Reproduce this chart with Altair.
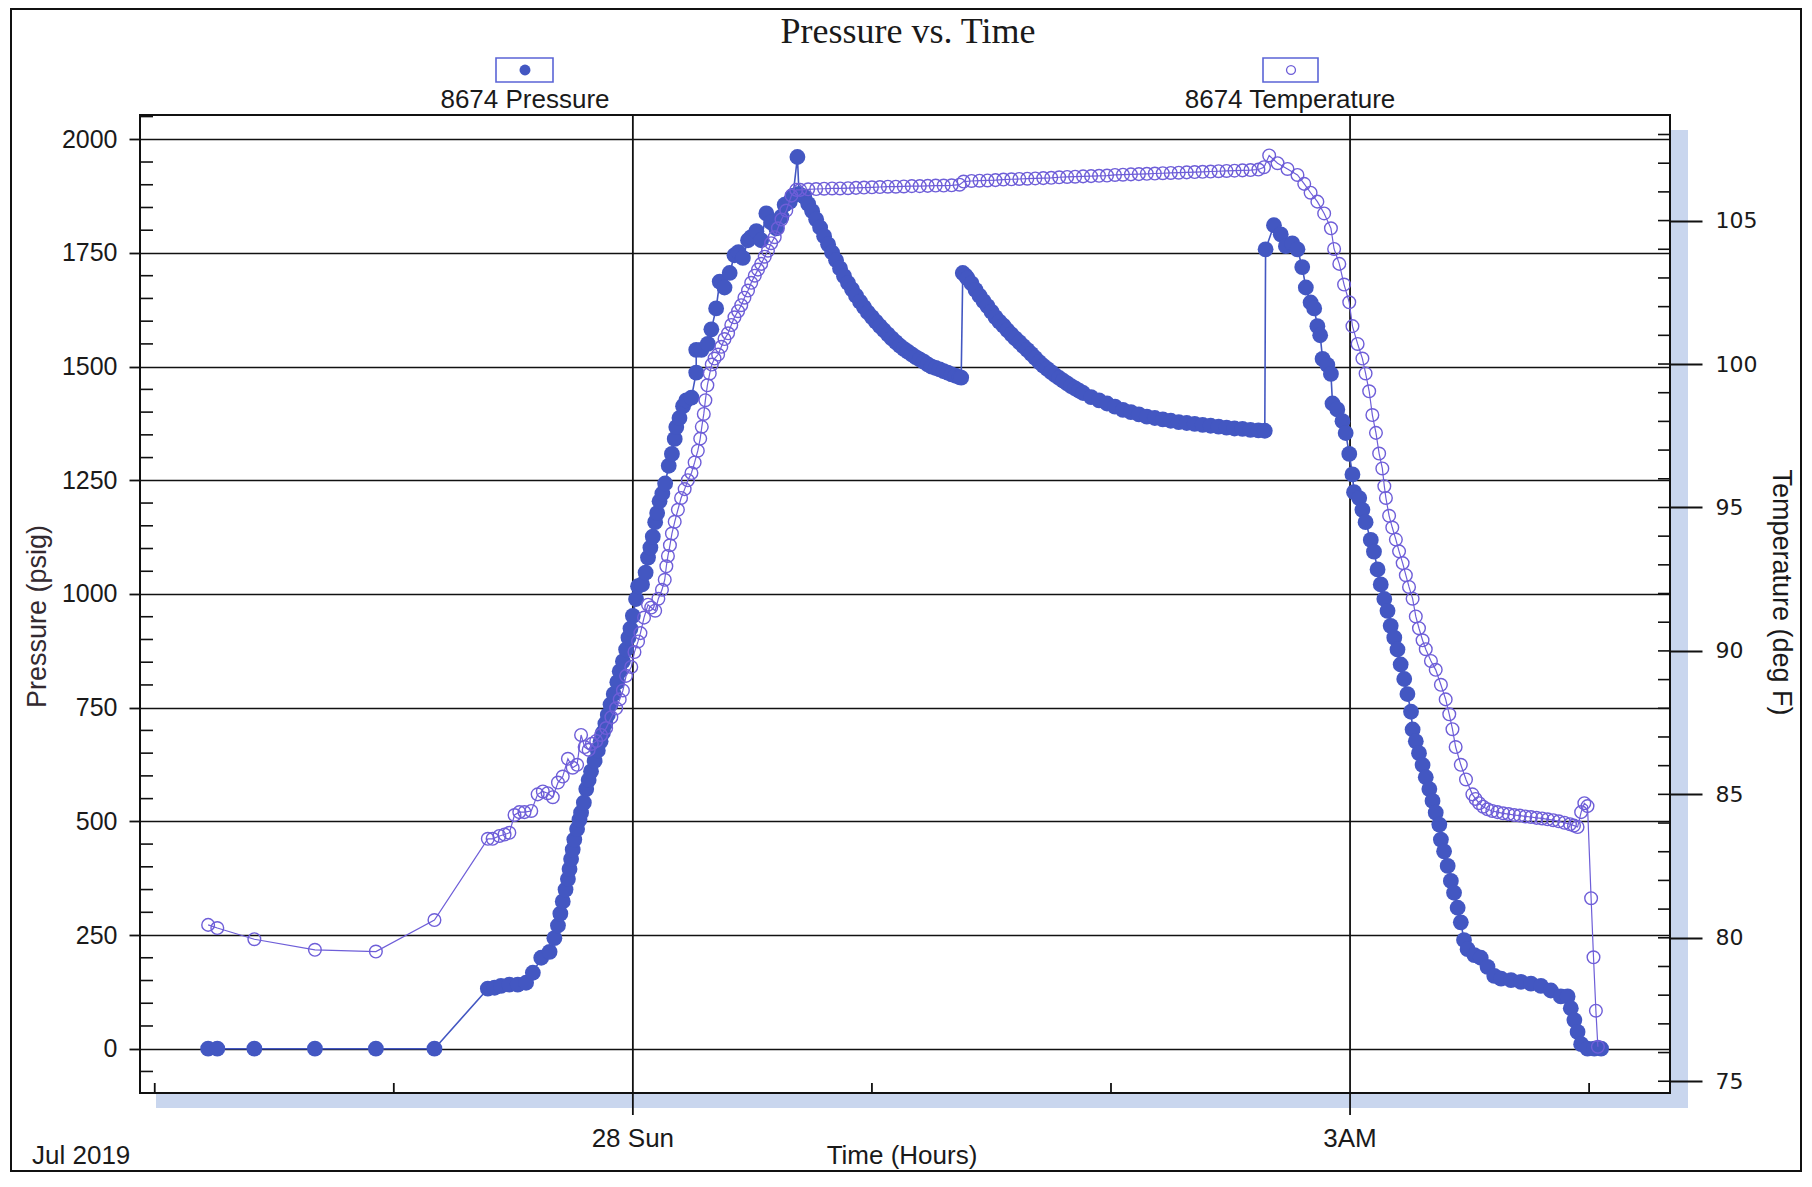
import altair as alt
import pandas as pd

# ---------------- data (minutes relative to 28 Jul 2019 00:00) ----------------
p_time_start = [-106.6, -104.3, -95.0, -79.8, -64.5, -49.8]
p_psig_start = [0, 0, 0, 0, 0, 0]

p_time_rise = [-36.4, -34.7, -33.1, -31.0, -28.9, -26.8, -25.1, -23.0, -20.9, -19.7, -18.8, -18.2,
               -17.6, -16.9, -16.3, -15.9, -15.5, -15.1, -14.7, -14.0, -13.4, -13.0, -12.3, -11.7,
               -11.1, -10.5, -9.6, -8.8, -8.1, -7.5, -6.9, -6.3, -5.6, -4.8, -3.9, -3.3, -2.5, -1.7,
               -1.1, -0.6, 0.0, 0.8, 1.3, 2.3, 3.2, 3.8, 4.4, 5.0, 5.6, 6.1, 6.7, 7.4, 8.1, 9.0, 9.8,
               10.5, 10.9, 11.7, 12.6, 13.4, 14.7, 15.9, 15.9, 17.2, 18.8, 19.7, 20.9, 21.8, 23.0,
               24.3, 25.5, 26.5, 27.6, 28.9, 29.7, 31.0, 32.2, 33.5, 34.7, 36.0, 37.3, 38.1, 39.4,
               40.2, 41.3, 41.7]
p_psig_rise = [132, 134, 138, 141, 141, 145, 167, 200, 213, 243, 271, 297,
               324, 350, 373, 395, 417, 438, 460, 483, 504, 519, 541, 571,
               591, 610, 633, 656, 676, 695, 715, 734, 757, 780, 806, 830, 852, 878,
               904, 924, 952, 989, 1017, 1021, 1047, 1080, 1102, 1126, 1158, 1178, 1204, 1221, 1243, 1282, 1308,
               1341, 1367, 1387, 1413, 1426, 1432, 1487, 1537, 1537, 1550, 1582, 1628, 1687, 1674,
               1706, 1745, 1752, 1739, 1778, 1785, 1798, 1778, 1837, 1817, 1804, 1830, 1856, 1863,
               1876, 1961, 1880]

p_time_decay1 = [43, 44, 45, 46, 47, 48, 49, 50, 51, 52, 53, 54, 55, 56, 57, 58, 59, 60, 61, 62, 63,
                 64, 65, 66, 67, 68, 69, 70, 71, 72, 73, 74, 75, 76, 77, 78, 79, 80, 81, 82, 82.4]
p_psig_decay1 = [1874, 1858, 1842, 1824, 1806, 1787, 1769, 1751, 1734, 1716, 1699, 1684, 1670, 1656,
                 1643, 1631, 1619, 1609, 1599, 1589, 1580, 1571, 1562, 1554, 1546, 1539, 1533, 1527,
                 1521, 1516, 1511, 1505, 1500, 1497, 1494, 1490, 1487, 1483, 1480, 1477, 1476]

p_time_decay2 = [82.8, 83.5, 84, 85, 86, 87, 88, 89, 90, 91, 92, 93, 94, 95, 96, 97, 98, 99, 100, 101,
                 102, 103, 104, 105, 106, 107, 108, 109, 110, 111, 112, 113, 115, 117, 119, 121, 123,
                 125, 127, 129, 131, 133, 135, 137, 139, 141, 143, 145, 147, 149, 151, 153, 155, 157,
                 158.6]
p_psig_decay2 = [1706, 1700, 1694, 1683, 1669, 1656, 1644, 1633, 1621, 1609, 1599, 1590, 1580, 1571,
                 1562, 1554, 1545, 1537, 1528, 1519, 1510, 1502, 1495, 1488, 1481, 1475, 1469, 1463,
                 1457, 1452, 1447, 1442, 1433, 1426, 1419, 1412, 1405, 1400, 1395, 1390, 1387, 1384,
                 1381, 1378, 1376, 1374, 1372, 1370, 1368, 1366, 1364, 1363, 1361, 1360, 1359]

p_time_fall = [158.8, 160.9, 162.6, 163.9, 165.5, 166.8, 168.0, 168.9, 170.1, 171.0, 171.8, 172.5,
               173.1, 174.3, 175.2, 175.6, 176.8, 178.1, 178.9, 179.8, 180.6, 181.0, 182.3, 183.1,
               183.9, 185.2, 186.0, 186.9, 187.7, 188.6, 189.4, 190.2, 191.1, 191.9, 192.7, 193.6,
               194.4, 195.3, 195.7, 196.5, 197.3, 198.2, 199.0, 199.9, 200.7, 201.5, 202.4, 202.8,
               203.6, 204.5, 205.3, 206.1, 207.0, 207.8, 208.6, 209.5, 211.2, 212.8, 214.5, 216.2,
               217.9, 220.4, 222.9, 225.4, 227.9, 230.4, 232.9, 234.6, 235.4, 236.3, 237.1, 238.0,
               239.6, 241.3, 243.0]
p_psig_fall = [1758, 1811, 1791, 1765, 1771, 1758, 1719, 1674, 1641, 1628, 1589, 1569,
               1517, 1504, 1484, 1419, 1406, 1380, 1354, 1308, 1263, 1224, 1211, 1185,
               1158, 1119, 1093, 1054, 1021, 989, 963, 930, 904, 878, 845, 813,
               780, 741, 702, 676, 650, 624, 597, 571, 545, 519, 493, 460,
               434, 402, 369, 343, 310, 278, 239, 219, 206, 200, 180, 160,
               154, 151, 147, 143, 138, 128, 115, 115, 89, 63, 37, 10,
               0, 0, 0]

t_time_start = [-106.6, -104.3, -95.0, -79.8, -64.5, -49.8]
t_degf_start = [80.45, 80.34, 79.95, 79.58, 79.52, 80.62]

t_time_rise = [-36.4, -35.2, -33.5, -32.2, -31.0, -29.7, -28.5, -27.2, -25.5, -23.9, -22.6, -21.4,
               -20.1, -18.8, -17.6, -16.3, -15.1, -14.0, -13.0, -12.1, -11.1, -10.3, -9.2, -8.0,
               -6.7, -5.4, -4.2, -3.3, -2.5, -1.7, -0.4, 0.4, 1.3, 1.9, 2.8, 3.8, 4.6, 5.6, 6.4, 7.3,
               8.0, 8.4, 8.8, 9.3, 9.8, 10.5, 11.3, 12.1, 13.0, 13.8, 14.7, 15.5, 16.3, 16.9, 17.3,
               17.8, 18.2, 18.7, 19.3, 19.8, 20.5, 21.4, 22.2, 23.0, 23.9, 24.7, 25.5, 26.4, 27.2,
               28.0, 28.9, 29.7, 30.6, 31.4, 32.2, 33.1, 33.9, 34.7, 35.6, 36.4, 37.3, 38.5, 39.8, 41.0]
t_degf_rise = [83.45, 83.45, 83.55, 83.60, 83.66, 84.28, 84.38, 84.38, 84.42, 85.00, 85.10, 85.04,
               84.90, 85.41, 85.62, 86.24, 85.93, 86.03, 87.07, 86.65, 86.55, 86.76, 86.86, 87.07,
               87.31, 87.69, 88.00, 88.31, 88.62, 89.13, 89.44, 89.96, 90.33, 90.62, 91.16, 91.61,
               91.51, 91.40, 91.82, 92.13, 92.48, 92.95, 93.31, 93.68, 94.09, 94.50, 94.92, 95.33,
               95.64, 95.95, 96.20, 96.57, 96.98, 97.40, 97.81, 98.26, 98.74, 99.26, 99.67, 99.98,
               100.19, 100.33, 100.60, 100.87, 101.07, 101.36, 101.63, 101.84, 102.05, 102.31,
               102.56, 102.83, 103.08, 103.29, 103.49, 103.74, 103.95, 104.21, 104.42, 104.73,
               105.04, 105.35, 105.87, 106.07]

t_time_flat = [42, 44, 46, 48, 50, 52, 54, 56, 58, 60, 62, 64, 66, 68, 70, 72, 74, 76, 78, 80, 82,
               83, 85, 87, 89, 91, 93, 95, 97, 99, 101, 103, 105, 107, 109, 111, 113, 115, 117, 119,
               121, 123, 125, 127, 129, 131, 133, 135, 137, 139, 141, 143, 145, 147, 149, 151, 153,
               155, 157]
t_degf_flat = [106.07, 106.09, 106.10, 106.11, 106.12, 106.12, 106.13, 106.14, 106.15, 106.16, 106.17,
               106.18, 106.18, 106.19, 106.20, 106.20, 106.21, 106.22, 106.22, 106.23, 106.25,
               106.36, 106.38, 106.39, 106.40, 106.41, 106.43, 106.44, 106.45, 106.46, 106.47, 106.48,
               106.49, 106.51, 106.52, 106.53, 106.54, 106.55, 106.56, 106.57, 106.59, 106.60,
               106.61, 106.62, 106.63, 106.64, 106.65, 106.66, 106.67, 106.68, 106.69, 106.70,
               106.71, 106.72, 106.73, 106.74, 106.75, 106.76, 106.78]

t_time_fall = [158.4, 159.7, 161.8, 164.3, 166.8, 168.5, 170.1, 171.8, 173.5, 175.2, 176.0, 177.3,
               178.5, 179.8, 180.6, 181.9, 183.1, 183.9, 184.8, 185.6, 186.5, 187.3, 188.1, 188.6,
               189.0, 189.8, 190.6, 191.5, 192.3, 193.2, 194.0, 194.8, 195.7, 196.5, 197.3, 198.2,
               199.0, 200.3, 201.5, 202.8, 204.0, 204.9, 205.7, 206.5, 207.8, 209.1, 210.7, 211.5,
               212.4, 213.4, 214.5, 215.7, 217.0, 218.4, 219.8, 221.2, 222.6, 224.0, 225.4, 226.8,
               228.2, 229.6, 231.0, 232.4, 233.8, 235.2, 236.2, 237.1, 238.0, 238.8, 239.6, 240.5,
               241.1, 241.7, 242.2]
t_degf_fall = [106.86, 107.27, 107.00, 106.80, 106.59, 106.28, 105.97, 105.66, 105.25, 104.73, 104.01,
               103.49, 102.77, 102.15, 101.32, 100.70, 100.19, 99.67, 99.05, 98.22, 97.60, 96.88,
               96.36, 95.74, 95.33, 94.71, 94.30, 93.88, 93.47, 93.06, 92.64, 92.23, 91.82, 91.20,
               90.79, 90.37, 90.06, 89.65, 89.34, 88.82, 88.31, 87.79, 87.27, 86.65, 86.03, 85.52,
               85.00, 84.84, 84.69, 84.57, 84.48, 84.42, 84.38, 84.34, 84.31, 84.28, 84.26, 84.23,
               84.21, 84.18, 84.16, 84.13, 84.10, 84.06, 84.01, 83.96, 83.91, 83.86, 84.38, 84.69,
               84.59, 81.38, 79.32, 77.46, 76.20]

x_major_ticks = [0, 180]
x_tick_labels = ["28 Sun", "3AM"]
x_minor_ticks = [-120, -60, 60, 120, 240]
p_major_ticks = [0, 250, 500, 750, 1000, 1250, 1500, 1750, 2000]
p_minor_ticks = [v for v in range(-50, 2051, 50) if v % 250 != 0]
t_major_ticks = [75, 80, 85, 90, 95, 100, 105]
t_minor_ticks = list(range(75, 109))

# ---------------- tables ----------------
p_time = p_time_start + p_time_rise + p_time_decay1 + p_time_decay2 + p_time_fall
p_psig = p_psig_start + p_psig_rise + p_psig_decay1 + p_psig_decay2 + p_psig_fall
t_time = t_time_start + t_time_rise + t_time_flat + t_time_fall
t_degf = t_degf_start + t_degf_rise + t_degf_flat + t_degf_fall

pres = pd.DataFrame({"t": p_time, "v": p_psig, "i": list(range(len(p_time)))})
temp = pd.DataFrame({"t": t_time, "v": t_degf, "i": list(range(len(t_time)))})
xticks = pd.DataFrame({"t": x_major_ticks, "lab": x_tick_labels})
one = pd.DataFrame({"a": [0]})

W, H = 1530, 978
P_COLOR = "#4357c2"
T_COLOR = "#6e5ed8"
SANS = "Liberation Sans"
INK = "#1a1a1a"

xs = alt.Scale(domain=[-123.7, 260.3], nice=False, zero=False)
ps = alt.Scale(domain=[-97.4, 2053.4], nice=False, zero=False)
ts = alt.Scale(domain=[74.59, 108.68], nice=False, zero=False)

p_axis = alt.Axis(orient="left", values=p_major_ticks, format="d", title="Pressure (psig)", grid=True,
                  gridColor="#111", gridWidth=1.6, domain=False, tickSize=11, tickColor="#111",
                  tickWidth=1.8, labelFont=SANS, labelFontSize=25, labelColor=INK,
                  labelPadding=12, titleFont=SANS, titleFontSize=27, titleFontWeight="normal",
                  titleColor="#332a30", titleAngle=-90, titleX=-103, titleY=501,
                  titleAlign="center", titleBaseline="middle")

t_axis = alt.Axis(orient="right", values=t_major_ticks, title="Temperature (deg F)", grid=False,
                  domain=False, tickSize=32, tickColor="#111", tickWidth=1.8,
                  labelFont="DejaVu Sans", labelFontSize=22, labelColor=INK, labelPadding=13,
                  titleFont=SANS, titleFontSize=27, titleFontWeight="normal", titleColor=INK,
                  titleAngle=90, titleX=110, titleY=477, titleAlign="center",
                  titleBaseline="middle", zindex=2)

# ---------------- layers ----------------
shadow_b = alt.Chart(one).mark_rect(color="#c9d6ee").encode(
    x=alt.value(16), x2=alt.value(W + 17), y=alt.value(H + 1), y2=alt.value(H + 15))
shadow_r = alt.Chart(one).mark_rect(color="#c9d6ee").encode(
    x=alt.value(W + 1), x2=alt.value(W + 18), y=alt.value(15), y2=alt.value(H + 15))

# x axis: full-height lines + long ticks at the labelled hours, short inner ticks elsewhere
vgrid = alt.Chart(xticks).mark_rule(color="#111", strokeWidth=1.8).encode(
    x=alt.X("t:Q", scale=xs, axis=None), y=alt.value(0), y2=alt.value(H + 22))
xlabels = alt.Chart(xticks).mark_text(font=SANS, fontSize=26, color=INK, align="center",
                                      baseline="alphabetic").encode(
    x=alt.X("t:Q", scale=xs, axis=None), y=alt.value(H + 54), text="lab:N")
xminor = alt.Chart(pd.DataFrame({"t": x_minor_ticks})).mark_rule(color="#111", strokeWidth=1.8).encode(
    x=alt.X("t:Q", scale=xs, axis=None), y=alt.value(H), y2=alt.value(H - 10))
xtitle = alt.Chart(one).mark_text(text="Time (Hours)", font=SANS, fontSize=26, color=INK,
                                  align="center", baseline="alphabetic").encode(
    x=alt.value(762), y=alt.value(H + 71))

pminor = alt.Chart(pd.DataFrame({"v": p_minor_ticks})).mark_rule(color="#111", strokeWidth=1.6).encode(
    y=alt.Y("v:Q", scale=ps, axis=None), x=alt.value(0), x2=alt.value(13))
p_line = alt.Chart(pres).mark_line(color=P_COLOR, strokeWidth=1.6).encode(
    x=alt.X("t:Q", scale=xs, axis=None), y=alt.Y("v:Q", scale=ps, axis=p_axis),
    order=alt.Order("i:Q"))
p_pts = alt.Chart(pres).mark_circle(color=P_COLOR, size=250, opacity=1).encode(
    x=alt.X("t:Q", scale=xs, axis=None), y=alt.Y("v:Q", scale=ps, axis=None))

tminor = alt.Chart(pd.DataFrame({"v": t_minor_ticks})).mark_rule(color="#111", strokeWidth=1.6).encode(
    y=alt.Y("v:Q", scale=ts, axis=None), x=alt.value(W - 12), x2=alt.value(W))
t_line = alt.Chart(temp).mark_line(color=T_COLOR, strokeWidth=1.2).encode(
    x=alt.X("t:Q", scale=xs, axis=None), y=alt.Y("v:Q", scale=ts, axis=t_axis),
    order=alt.Order("i:Q"))
t_pts = alt.Chart(temp).mark_point(shape="circle", filled=False, size=160, strokeWidth=1.4,
                                   color=T_COLOR, opacity=1).encode(
    x=alt.X("t:Q", scale=xs, axis=None), y=alt.Y("v:Q", scale=ts, axis=None))

title = alt.Chart(one).mark_text(text="Pressure vs. Time", font="Liberation Serif", fontSize=36,
                                 color=INK, align="center", baseline="alphabetic").encode(
    x=alt.value(768), y=alt.value(-72))
box1 = alt.Chart(one).mark_rect(fill="white", stroke="#5b64d6", strokeWidth=1.6).encode(
    x=alt.value(356), x2=alt.value(413), y=alt.value(-57), y2=alt.value(-33))
sym1 = alt.Chart(one).mark_circle(color=P_COLOR, size=120, opacity=1).encode(
    x=alt.value(385), y=alt.value(-45))
lab1 = alt.Chart(one).mark_text(text="8674 Pressure", font=SANS, fontSize=26, color=INK,
                                align="center", baseline="alphabetic").encode(
    x=alt.value(385), y=alt.value(-7))
box2 = alt.Chart(one).mark_rect(fill="white", stroke="#5b64d6", strokeWidth=1.6).encode(
    x=alt.value(1123), x2=alt.value(1178), y=alt.value(-57), y2=alt.value(-33))
sym2 = alt.Chart(one).mark_point(shape="circle", filled=False, size=80, strokeWidth=1.3,
                                 color=T_COLOR, opacity=1).encode(
    x=alt.value(1151), y=alt.value(-45))
lab2 = alt.Chart(one).mark_text(text="8674 Temperature", font=SANS, fontSize=26, color=INK,
                                align="center", baseline="alphabetic").encode(
    x=alt.value(1150), y=alt.value(-7))
jul = alt.Chart(one).mark_text(text="Jul 2019", font=SANS, fontSize=26, color=INK,
                               align="left", baseline="alphabetic").encode(
    x=alt.value(-108), y=alt.value(H + 71))
frame = alt.Chart(one).mark_rect(fillOpacity=0, stroke="#111", strokeWidth=2).encode(
    x=alt.value(-129), x2=alt.value(W + 131), y=alt.value(-106), y2=alt.value(H + 78))

chart = alt.layer(
    shadow_b, shadow_r, vgrid, xminor, xlabels, xtitle, pminor, p_line, p_pts, tminor, t_line, t_pts,
    title, box1, sym1, lab1, box2, sym2, lab2, jul, frame
).resolve_scale(y="independent").properties(
    width=W, height=H,
    autosize=alt.AutoSizeParams(type="none"),
    padding={"left": 132, "top": 107, "right": 132, "bottom": 80},
).configure_view(stroke="#111", strokeWidth=2)

chart.save("out.html", embed_options={"renderer": "svg", "actions": False})
